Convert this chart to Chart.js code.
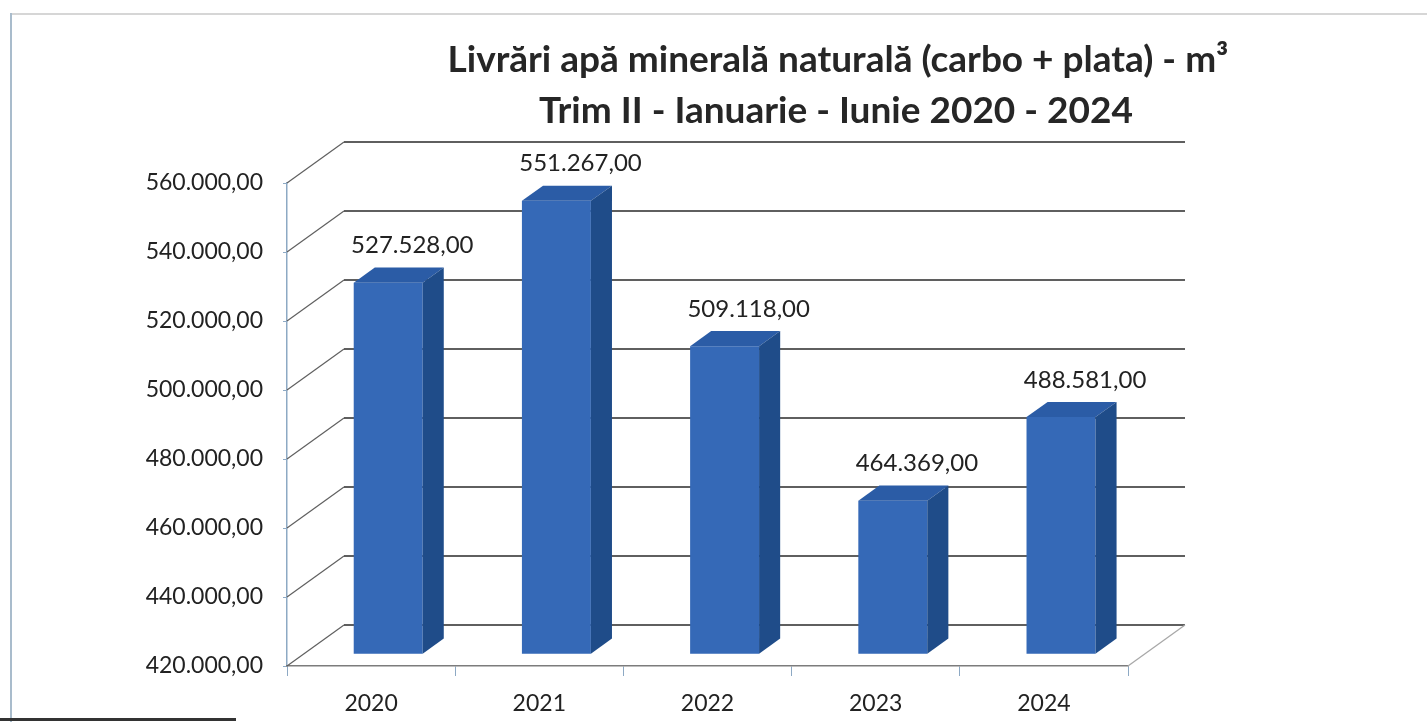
<!DOCTYPE html>
<html><head><meta charset="utf-8">
<script src="https://cdn.jsdelivr.net/npm/chart.js@4/dist/chart.umd.min.js"></script>
<style>
html,body{margin:0;padding:0;background:#fff;}
#wrap{position:relative;width:1427px;height:722px;overflow:hidden;background:#fff;}
canvas{position:absolute;left:0;top:0;}
#frameTop{position:absolute;left:11px;top:13px;width:1416px;height:0;border-top:2px solid #d6d6d6;}
#frameLeft{position:absolute;left:10px;top:13px;width:0;height:709px;border-left:2px solid #a9bccc;}
#frameBottom{position:absolute;left:0;top:718px;width:236px;height:0;border-top:3px solid #333;}
</style></head>
<body><div id="wrap"><div id="frameTop"></div><div id="frameLeft"></div><div id="frameBottom"></div><canvas id="c" width="1427" height="722"></canvas></div>
<script>
const categories = ['2020', '2021', '2022', '2023', '2024'];
const values = [527528, 551267, 509118, 464369, 488581];
const titleLines = ['Livrări apă minerală naturală (carbo + plata) - m³', 'Trim II - Ianuarie - Iunie 2020 - 2024'];
const yMin = 420000, yMax = 560000, yStep = 20000;

function fmt(v) {
  const parts = Math.abs(v).toFixed(2).split('.');
  const intPart = parts[0].replace(/\B(?=(\d{3})+(?!\d))/g, '.');
  return (v < 0 ? '-' : '') + intPart + ',' + parts[1];
}

// 3D projection style
const D = { dx: 57, dy: -41, barFront: 0.30, barBack: 0.67 };
const FACE = { front: '#3569b7', top: '#2b5ca6', side: '#1f4c89' };

const threeD = {
  id: 'threeD',
  beforeDatasetsDraw(chart) {
    const { ctx, chartArea: a, scales: { y } } = chart;
    ctx.save();
    y.ticks.forEach(t => {
      const py = y.getPixelForValue(t.value);
      ctx.beginPath(); ctx.strokeStyle = '#5f5f5f'; ctx.lineWidth = 1.2;
      ctx.moveTo(a.left, py); ctx.lineTo(a.left + D.dx, py + D.dy); ctx.stroke();
      ctx.beginPath(); ctx.strokeStyle = '#2a2a2a'; ctx.lineWidth = 1.6;
      ctx.moveTo(a.left + D.dx, py + D.dy); ctx.lineTo(a.right + D.dx, py + D.dy); ctx.stroke();
    });
    ctx.beginPath(); ctx.strokeStyle = '#a8a8a8'; ctx.lineWidth = 1.3;
    ctx.moveTo(a.right, a.bottom); ctx.lineTo(a.right + D.dx, a.bottom + D.dy); ctx.stroke();
    ctx.restore();
    ctx.save();
    ctx.translate(D.dx * D.barFront, D.dy * D.barFront);
  },
  afterDatasetsDraw(chart) {
    const ctx = chart.ctx;
    ctx.restore();
    const y = chart.scales.y;
    const floorY = y.getPixelForValue(y.min);
    const fx = D.dx * D.barFront, fy = D.dy * D.barFront;
    const bx = D.dx * (D.barBack - D.barFront), by = D.dy * (D.barBack - D.barFront);
    const meta = chart.getDatasetMeta(0);
    ctx.save();
    meta.data.forEach((el, i) => {
      const p = el.getProps(['x', 'y', 'width'], true);
      const l = p.x - p.width / 2 + fx, r = p.x + p.width / 2 + fx;
      const t = p.y + fy, b = floorY + fy;
      ctx.fillStyle = FACE.top;
      ctx.beginPath(); ctx.moveTo(l, t); ctx.lineTo(r, t); ctx.lineTo(r + bx, t + by); ctx.lineTo(l + bx, t + by); ctx.closePath(); ctx.fill();
      ctx.fillStyle = FACE.side;
      ctx.beginPath(); ctx.moveTo(r, t); ctx.lineTo(r + bx, t + by); ctx.lineTo(r + bx, b + by); ctx.lineTo(r, b); ctx.closePath(); ctx.fill();
      ctx.fillStyle = '#222';
      ctx.font = '24px Lato';
      ctx.textAlign = 'center';
      ctx.textBaseline = 'middle';
      ctx.fillText(fmt(values[i]), p.x + fx + bx + 3, t + by - 22);
    });
    ctx.restore();
  },
  afterDraw(chart) {
    const ctx = chart.ctx;
    ctx.save();
    ctx.fillStyle = '#262626';
    ctx.font = 'bold 37px Lato';
    ctx.textAlign = 'center';
    ctx.textBaseline = 'alphabetic';
    ctx.fillText(titleLines[0], 838, 72);
    ctx.fillText(titleLines[1], 836, 123);
    ctx.restore();
  }
};

function build() {
  new Chart(document.getElementById('c'), {
    type: 'bar',
    data: {
      labels: categories,
      datasets: [{
        data: values,
        backgroundColor: FACE.front,
        borderWidth: 0,
        categoryPercentage: 1,
        barPercentage: 0.41
      }]
    },
    options: {
      responsive: false,
      animation: false,
      layout: { padding: { top: 183, right: 299, bottom: 0, left: 0 } },
      plugins: { legend: { display: false }, title: { display: false }, tooltip: { enabled: false } },
      scales: {
        y: {
          min: yMin, max: yMax,
          afterFit(s) { s.width = 287; },
          ticks: { stepSize: yStep, callback: v => fmt(v), font: { family: 'Lato', size: 23 }, color: '#222', padding: 20 },
          grid: { drawOnChartArea: false, drawTicks: true, tickLength: 4, color: '#8da9c4' },
          border: { color: '#8da9c4', width: 1.5 }
        },
        x: {
          afterFit(s) { s.height = 56; },
          ticks: { font: { family: 'Lato', size: 23 }, color: '#222', padding: 14 },
          grid: { drawOnChartArea: false, drawTicks: true, tickLength: 10, color: '#8da9c4', offset: true },
          border: { color: '#7c7c7c', width: 1.5 }
        }
      }
    },
    plugins: [threeD]
  });
}
const fontLoads = [document.fonts.load('23px Lato'), document.fonts.load('bold 37px Lato')];
Promise.all(fontLoads).then(build, build);
</script>
</body></html>
